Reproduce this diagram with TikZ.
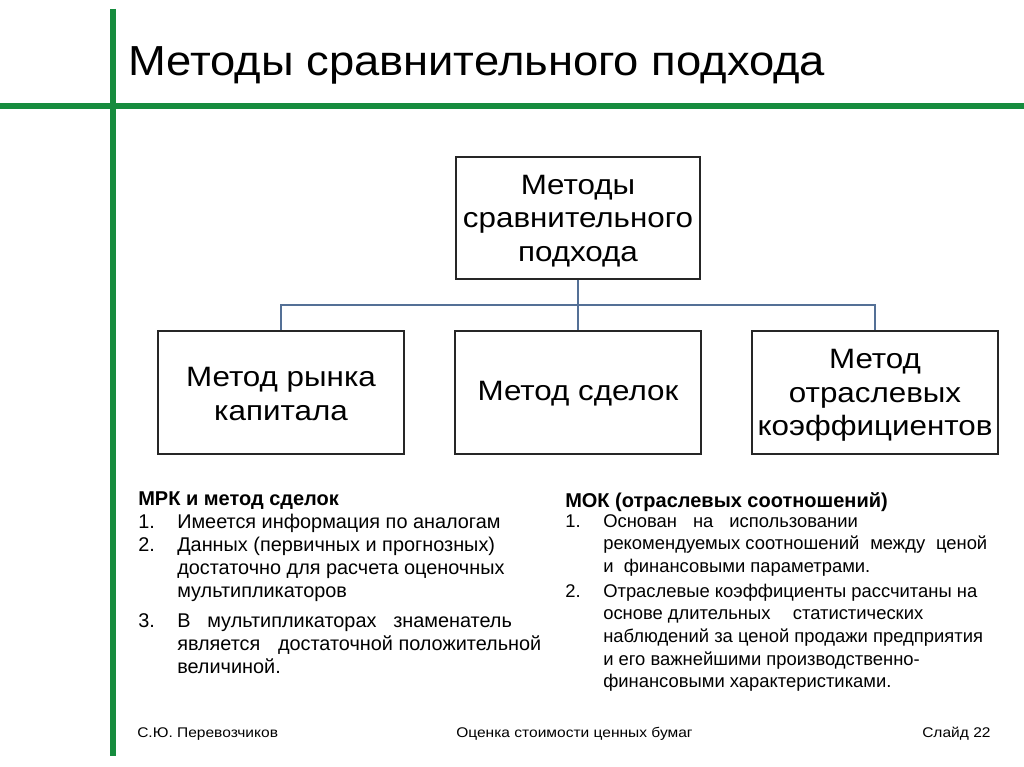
\documentclass[tikz,border=0pt]{standalone}
\usepackage{fontspec}
\usepackage{graphicx}
\setmainfont{Liberation Sans}
\definecolor{slgreen}{RGB}{22,140,62}
\definecolor{conn}{RGB}{84,112,150}
\newcommand\myfs[2]{\fontsize{#1}{#2}\selectfont}
\newcommand\sx[1]{\scalebox{1.12}[1]{#1}}
\newcommand\sxf[1]{\scalebox{1.11}[1]{#1}}
\tikzset{
  box/.style={draw=black!85, line width=1.3pt, inner sep=0pt},
  boxtext/.style={align=center, font=\myfs{21}{25}},
  greenline/.style={draw=slgreen, line width=4.5pt},
  link/.style={draw=conn, line width=1.1pt},
  lt/.style={anchor=base west, inner sep=0pt, font=\myfs{14.9}{18}},
  rt/.style={anchor=base west, inner sep=0pt, font=\myfs{13.8}{16}},
  foot/.style={anchor=base west, inner sep=0pt, font=\myfs{10.5}{12}},
}
\begin{document}
\begin{tikzpicture}[x=0.75pt,y=-0.75pt]
\useasboundingbox[fill=white] (0,0) rectangle (1024,767);
% green frame lines
\coordinate (vt) at (113,9);
\coordinate (vb) at (113,756);
\coordinate (hl) at (0,106);
\coordinate (hr) at (1024,106);
\draw[greenline] (vt) -- (vb);
\draw[greenline] (hl) -- (hr);
% title
\node[anchor=base west, inner sep=0pt, font=\myfs{31.5}{34}] (title) at (128,75) {\scalebox{1.08}[1]{Методы сравнительного подхода}};
% boxes
\node[box, minimum width=183pt, minimum height=91.5pt] (top) at (578,218) {};
\node[boxtext] (toptxt) at (578,221) {\sx{Методы}\\\sx{сравнительного}\\\sx{подхода}};
\node[box, minimum width=184.5pt, minimum height=92pt] (b1) at (281,392.5) {};
\node[box, minimum width=184.5pt, minimum height=92pt] (b2) at (578,392.5) {};
\node[box, minimum width=184.5pt, minimum height=92pt] (b3) at (875,392.5) {};
\node[boxtext] (b1t) at (281,394) {\sx{Метод рынка}\\\sx{капитала}};
\node[boxtext] (b2t) at (578,394) {\sx{Метод сделок}};
\node[boxtext] (b3t) at (875,395.5) {\sx{Метод}\\\sx{отраслевых}\\\sx{коэффициентов}};
% connectors
\coordinate (mid) at (578,305);
\draw[link] (top.south) -- (mid);
\draw[link] (b1.north) |- (mid) -| (b3.north);
\draw[link] (mid) -- (b2.north);
% left list
\node[lt, font=\myfs{15}{18}\bfseries] (lh) at (138,505) {МРК и метод сделок};
\node[lt] (ln1) at (138,528) {1.};
\node[lt] (l1) at (177,528) {Имеется информация по аналогам};
\node[lt] (ln2) at (138,551) {2.};
\node[lt] (l2a) at (177,551) {Данных (первичных и прогнозных)};
\node[lt] (l2b) at (177,574) {достаточно для расчета оценочных};
\node[lt] (l2c) at (177,597) {мультипликаторов};
\node[lt] (ln3) at (138,627) {3.};
\node[lt] (l3a) at (177,627) {\makebox[251pt][s]{В мультипликаторах знаменатель}};
\node[lt] (l3b) at (177,650) {\makebox[273pt][l]{является\hfill достаточной положительной}};
\node[lt] (l3c) at (177,673) {величиной.};
% right list
\node[rt, font=\myfs{15}{18}\bfseries] (rh) at (565,507) {МОК (отраслевых соотношений)};
\node[rt] (rn1) at (565,527) {1.};
\node[rt] (r1a) at (603,527) {\makebox[191pt][s]{Основан на использовании}};
\node[rt] (r1b) at (603,549) {\makebox[288pt][l]{рекомендуемых соотношений\ \hfill между\ \hfill ценой}};
\node[rt] (r1c) at (603,572) {и\ \ финансовыми параметрами.};
\node[rt] (rn2) at (565,597) {2.};
\node[rt] (r2a) at (603,597) {Отраслевые коэффициенты рассчитаны на};
\node[rt] (r2b) at (603,619) {\makebox[240pt][l]{основе длительных\hfill статистических}};
\node[rt] (r2c) at (603,642) {наблюдений за ценой продажи предприятия};
\node[rt] (r2d) at (603,665) {и его важнейшими производственно-};
\node[rt] (r2e) at (603,687) {финансовыми характеристиками.};
% footer
\node[foot] (f1) at (137,737) {\sxf{С.Ю. Перевозчиков}};
\node[foot] (f2) at (456,737) {\sxf{Оценка стоимости ценных бумаг}};
\node[foot] (f3) at (922,737) {\sxf{Слайд 22}};
\end{tikzpicture}
\end{document}
